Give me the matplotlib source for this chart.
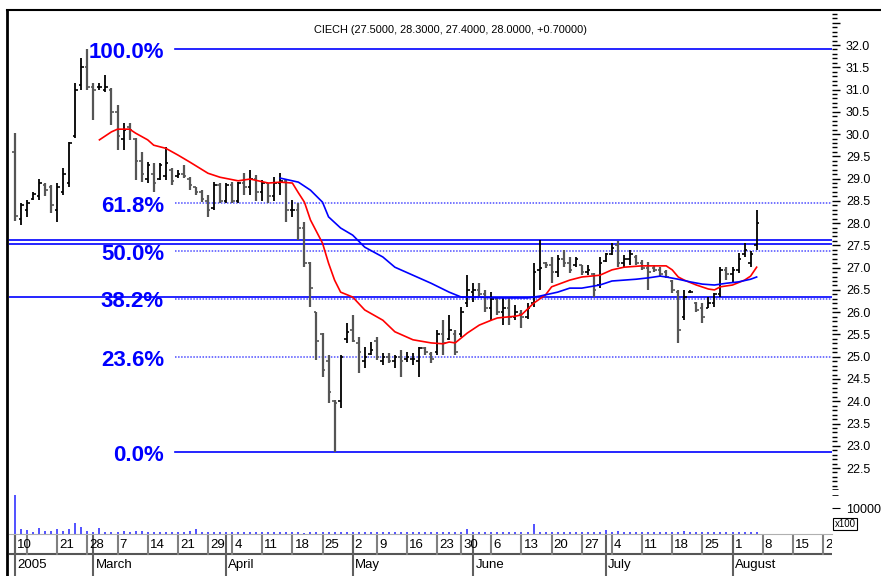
import numpy as np
import pandas as pd
import matplotlib
matplotlib.use("Agg")
import matplotlib.pyplot as plt
from matplotlib.lines import Line2D
from matplotlib.ticker import MultipleLocator, FuncFormatter, FixedLocator
import matplotlib.transforms as mtrans

plt.rcParams['font.family'] = ['Liberation Sans', 'DejaVu Sans']

title = "CIECH (27.5000, 28.3000, 27.4000, 28.0000, +0.70000)"

# ---------------- data ----------------
opens = [29.6, 28.1, 28.3, 28.55, 28.6, 28.85, 28.8, 28.3, 28.7, 28.9,
         29.95, 31.1, 31.5, 31.05, 31.05, 31.0, 31.0, 30.5, 29.9, 30.15,
         29.9, 29.4, 29.0, 29.1, 29.0, 29.05, 29.2, 29.05, 29.1, 29.0,
         28.8, 28.7, 28.5, 28.35, 28.85, 28.5, 28.85, 28.5, 28.9, 28.8,
         29.0, 28.7, 28.9, 28.6, 28.9, 28.95, 28.3, 28.3, 27.9, 27.1,
         26.0, 25.5, 24.9, 24.0, 24.0, 25.4, 25.6, 25.3, 24.9, 25.05,
         25.35, 24.9, 25.0, 24.9, 25.0, 24.95, 24.95, 24.9, 25.2, 25.05,
         25.1, 25.5, 25.4, 25.5, 25.5, 26.2, 26.45, 26.5, 26.4, 26.1,
         26.3, 26.0, 26.1, 25.9, 25.95, 25.9, 26.2, 26.95, 27.1, 27.05,
         26.9, 27.2, 27.1, 27.05, 27.05, 26.9, 26.85, 26.6, 27.15, 27.3,
         27.5, 27.1, 27.2, 27.25, 27.1, 27.0, 27.0, 26.95, 26.9, 26.7,
         26.45, 25.9, 26.45, 26.2, 26.1, 26.1, 26.2, 26.4, 26.95, 26.85,
         26.95, 27.3, 27.1, 27.5]
highs = [30.03, 28.45, 28.52, 28.7, 29.0, 28.9, 28.86, 28.9, 29.24, 29.82,
         31.15, 31.7, 31.9, 31.15, 31.15, 31.33, 31.03, 30.65, 30.25, 30.25,
         29.91, 29.6, 29.37, 29.35, 29.35, 29.7, 29.24, 29.19, 29.3, 29.04,
         28.81, 28.74, 28.63, 28.92, 28.9, 28.9, 28.92, 28.92, 29.12, 29.19,
         29.08, 28.97, 28.9, 29.03, 29.12, 28.97, 28.52, 28.45, 28.03, 27.13,
         26.01, 25.53, 25.04, 24.03, 25.04, 25.76, 25.94, 25.44, 25.22, 25.33,
         25.44, 25.08, 25.08, 25.04, 25.15, 25.1, 25.08, 25.22, 25.22, 25.1,
         25.6, 25.82, 25.94, 25.6, 26.12, 26.83, 26.65, 26.65, 26.5, 26.45,
         26.32, 26.32, 26.32, 26.16, 26.05, 26.2, 27.1, 27.62, 27.13, 27.24,
         27.28, 27.4, 27.24, 27.24, 27.06, 27.06, 26.88, 27.24, 27.33, 27.55,
         27.6, 27.28, 27.4, 27.28, 27.17, 27.13, 27.06, 27.01, 26.95, 26.72,
         26.5, 26.5, 26.5, 26.23, 26.2, 26.34, 26.43, 27.01, 27.01, 27.01,
         27.33, 27.55, 27.38, 28.3]
lows = [28.04, 27.96, 28.14, 28.52, 28.52, 28.6, 28.23, 28.03, 28.63, 28.81,
        29.91, 31.0, 30.99, 30.32, 30.99, 30.95, 30.2, 29.64, 29.64, 29.87,
        28.97, 28.92, 28.9, 28.7, 28.97, 28.97, 28.86, 29.01, 29.01, 28.74,
        28.63, 28.47, 28.14, 28.3, 28.45, 28.45, 28.45, 28.45, 28.63, 28.63,
        28.5, 28.5, 28.45, 28.5, 28.63, 28.03, 28.14, 27.62, 27.01, 26.12,
        24.93, 24.54, 23.96, 22.85, 23.85, 25.31, 25.33, 24.63, 24.75, 25.04,
        24.93, 24.81, 24.86, 24.75, 24.54, 24.88, 24.81, 24.54, 25.04, 24.86,
        25.04, 25.04, 25.38, 25.04, 25.44, 26.12, 26.23, 26.34, 26.0, 25.82,
        25.94, 25.71, 25.71, 25.82, 25.64, 25.85, 26.12, 26.5, 27.0, 26.65,
        26.79, 27.01, 26.88, 27.01, 26.83, 26.83, 26.34, 26.54, 27.13, 27.28,
        27.01, 27.01, 27.06, 27.06, 26.94, 26.5, 26.9, 26.79, 26.77, 26.43,
        25.31, 25.82, 26.43, 26.0, 25.76, 26.09, 26.12, 26.34, 26.72, 26.65,
        26.88, 27.24, 27.01, 27.4]
closes = [28.15, 28.4, 28.45, 28.65, 28.9, 28.75, 28.4, 28.8, 29.1, 29.8,
          31.0, 31.5, 31.05, 31.0, 31.05, 31.05, 30.5, 29.95, 30.1, 30.1,
          29.4, 29.1, 29.3, 28.9, 29.3, 29.35, 28.95, 29.1, 29.05, 28.85,
          28.7, 28.55, 28.3, 28.85, 28.5, 28.85, 28.5, 28.9, 28.8, 29.0,
          28.7, 28.9, 28.6, 28.9, 28.95, 28.3, 28.3, 27.9, 27.1, 26.55,
          25.35, 24.7, 24.2, 23.95, 25.0, 25.55, 25.35, 25.1, 25.0, 25.15,
          25.0, 25.0, 24.9, 25.0, 24.9, 25.0, 24.95, 25.2, 25.1, 24.95,
          25.5, 25.3, 25.6, 25.1, 26.0, 26.5, 26.5, 26.4, 26.1, 26.3,
          26.0, 26.1, 25.9, 26.0, 25.9, 26.1, 26.9, 27.0, 27.05, 26.9,
          27.2, 27.1, 26.95, 27.2, 26.9, 26.95, 26.5, 27.1, 27.3, 27.45,
          27.1, 27.2, 27.3, 27.1, 27.0, 26.9, 26.95, 26.85, 26.8, 26.5,
          25.6, 26.35, 26.45, 26.05, 25.9, 26.2, 26.4, 26.95, 26.85, 26.95,
          27.2, 27.4, 27.3, 28.0]
volumes = [15000, 1800, 1500, 900, 2200, 1300, 1300, 1800, 1300, 1800,
           4300, 2800, 1300, 900, 2200, 900, 650, 900, 1300, 900,
           1300, 1300, 650, 650, 650, 650, 650, 650, 900, 1300,
           1800, 650, 650, 650, 900, 650, 650, 650, 650, 650,
           650, 650, 650, 650, 650, 650, 650, 650, 500, 650,
           650, 650, 650, 650, 650, 650, 650, 650, 650, 650,
           650, 650, 650, 650, 650, 650, 650, 650, 650, 650,
           650, 650, 650, 650, 650, 1800, 650, 650, 650, 650,
           650, 650, 650, 650, 650, 650, 3900, 650, 650, 650,
           650, 650, 650, 650, 650, 650, 650, 650, 1500, 650,
           1300, 650, 650, 650, 650, 650, 650, 650, 650, 650,
           650, 1300, 650, 650, 650, 650, 650, 650, 650, 650,
           650, 650, 650, 650]

# moving averages (bar index, value)
red_ma_bar = [14, 16, 17, 19, 20, 22, 23, 25, 27, 29, 32, 34, 37, 39, 42, 44, 46, 47,
              48, 49, 51, 52, 53, 54, 56, 58, 61, 63, 66, 69, 71, 72, 73, 75, 77, 79,
              80, 83, 84, 86, 88, 89, 92, 94, 97, 99, 101, 104, 108, 109, 110, 111,
              113, 115, 116, 117, 119, 121, 122, 123]
red_ma_val = [29.87, 30.05, 30.11, 30.11, 30.02, 29.87, 29.75, 29.68, 29.53, 29.37,
              29.12, 29.03, 28.95, 28.99, 28.9, 28.92, 28.9, 28.68, 28.47, 28.07,
              27.55, 27.1, 26.72, 26.45, 26.34, 26.05, 25.82, 25.56, 25.38, 25.31,
              25.29, 25.33, 25.31, 25.53, 25.71, 25.82, 25.87, 25.91, 25.94, 26.2,
              26.39, 26.57, 26.72, 26.79, 26.83, 26.95, 27.01, 27.04, 27.04, 26.95,
              26.79, 26.72, 26.61, 26.52, 26.5, 26.57, 26.61, 26.72, 26.81, 27.01]
blue_ma_bar = [44, 47, 49, 51, 52, 54, 56, 58, 61, 63, 66, 69, 72, 74, 77, 80, 83, 85,
               87, 90, 92, 94, 97, 99, 103, 105, 107, 108, 110, 112, 114, 116, 118,
               120, 122, 123]
blue_ma_val = [29.01, 28.92, 28.74, 28.47, 28.14, 27.89, 27.73, 27.46, 27.24, 27.01,
               26.83, 26.65, 26.45, 26.34, 26.34, 26.32, 26.32, 26.32, 26.36, 26.45,
               26.54, 26.54, 26.61, 26.7, 26.74, 26.77, 26.81, 26.79, 26.74, 26.68,
               26.63, 26.61, 26.65, 26.68, 26.74, 26.79]

# Fibonacci retracement between the swing low and high
fib_low, fib_high = 22.85, 31.9
fib_pcts = [0.0, 23.6, 38.2, 50.0, 61.8, 100.0]
fib_labels = ["0.0%", "23.6%", "38.2%", "50.0%", "61.8%", "100.0%"]
hlines_levels = [27.62, 27.53, 26.35]   # full-width support / resistance lines

# calendar (Warsaw exchange trading days)
first_day, last_day = "2005-02-10", "2005-08-31"
holidays = ["2005-03-28", "2005-05-03", "2005-05-26"]
week_ticks = ["2005-02-10", "2005-02-14", "2005-02-21", "2005-02-28", "2005-03-07",
              "2005-03-14", "2005-03-21", "2005-03-29", "2005-04-04", "2005-04-11",
              "2005-04-18", "2005-04-25", "2005-05-02", "2005-05-09", "2005-05-16",
              "2005-05-23", "2005-05-30", "2005-06-06", "2005-06-13", "2005-06-20",
              "2005-06-27", "2005-07-04", "2005-07-11", "2005-07-18", "2005-07-25",
              "2005-08-01", "2005-08-08", "2005-08-15", "2005-08-22"]
week_labels = ["10", "", "21", "28", "7", "14", "21", "29", "4", "11", "18", "25",
               "2", "9", "16", "23", "30", "6", "13", "20", "27", "4", "11", "18",
               "25", "1", "8", "15", "22"]
month_ticks = ["2005-02-10", "2005-03-01", "2005-04-01", "2005-05-02", "2005-06-01",
               "2005-07-01", "2005-08-01"]
month_labels = ["2005", "March", "April", "May", "June", "July", "August"]

# ---------------- figure ----------------
W, H = 881, 576
fig = plt.figure(figsize=(W / 100, H / 100), dpi=100)
fig.patch.set_facecolor("white")


def rect(l, t, r, b):
    return [l / W, 1 - b / H, (r - l) / W, (b - t) / H]


dates = pd.bdate_range(first_day, last_day)
dates = dates[~dates.isin(pd.to_datetime(holidays))]
pos = {d: i for i, d in enumerate(dates)}

n = len(closes)
x = np.arange(n)
o = np.array(opens); h = np.array(highs); l = np.array(lows); c = np.array(closes)

XMIN, XMAX = -1.0, 135.5

# price panel
ax = fig.add_axes(rect(9, 10, 832, 487))
ax.set_xlim(XMIN, XMAX)
ax.set_ylim(22.074, 32.786)
for s in ax.spines.values():
    s.set_visible(False)
ax.set_xticks([])

up = c >= o
cols = np.where(up, "#000000", "#555555")
lws = np.where(up, 1.3, 1.6)
for xi, lo_, hi_, op, cl, col, lw in zip(x, l, h, o, c, cols, lws):
    ax.plot([xi, xi], [lo_, hi_], color=col, lw=lw, solid_capstyle="butt", zorder=3)
    ax.plot([xi - 0.42, xi], [op, op], color=col, lw=1.2, solid_capstyle="butt", zorder=3)
    ax.plot([xi, xi + 0.42], [cl, cl], color=col, lw=1.2, solid_capstyle="butt", zorder=3)

ax.plot(red_ma_bar, red_ma_val, color="#ff0000", lw=1.2, zorder=4)
ax.plot(blue_ma_bar, blue_ma_val, color="#0000ff", lw=1.2, zorder=4)

fib_x0 = (175 - 9) / (832 - 9)
lbl_x = (164 - 9) / (832 - 9)
blend = mtrans.blended_transform_factory(ax.transAxes, ax.transData)
for p, lab in zip(fib_pcts, fib_labels):
    lev = fib_low + p / 100.0 * (fib_high - fib_low)
    if p in (0.0, 100.0):
        ax.axhline(lev, xmin=fib_x0, xmax=1, color="#0000ff", lw=1.2, zorder=2)
    else:
        ax.axhline(lev, xmin=fib_x0, xmax=1, color="#4d4dff", lw=1.1,
                   linestyle=(0, (1, 1)), zorder=2)
    ax.text(lbl_x, lev - 0.07, lab, transform=blend, ha="right", va="center",
            color="#0000ff", fontsize=16, fontweight="bold",
            family=["Liberation Sans", "DejaVu Sans"], zorder=5)

for lev in hlines_levels:
    ax.axhline(lev, color="#0000ff", lw=1.2, zorder=2)

ax.yaxis.tick_right()
ax.yaxis.set_major_locator(MultipleLocator(0.5))
ax.yaxis.set_minor_locator(MultipleLocator(0.1))
ax.yaxis.set_major_formatter(FuncFormatter(lambda v, _: "" if v > 32.2 else f"{v:.1f}"))
ax.tick_params(axis="y", which="major", length=6, width=1, pad=4, labelsize=9,
               direction="out", colors="black")
ax.tick_params(axis="y", which="minor", length=3.5, width=1, direction="out")

fig.text(450 / W, 1 - 30 / H, title, ha="center", va="center", fontsize=7.9)

# volume panel
axv = fig.add_axes(rect(9, 487, 832, 534))
axv.set_xlim(XMIN, XMAX)
axv.set_ylim(0, 18077)
for s in axv.spines.values():
    s.set_visible(False)
axv.set_xticks([])
axv.vlines(x, 0, volumes, color="#3333ff", lw=1.2)
axv.yaxis.tick_right()
axv.yaxis.set_major_locator(FixedLocator([10000]))
axv.yaxis.set_minor_locator(FixedLocator([15000, 17500]))
axv.tick_params(axis="y", which="major", length=6, pad=4, labelsize=9)
axv.tick_params(axis="y", which="minor", length=4)
fig.text(845 / W, 1 - 524 / H, "x100", ha="center", va="center", fontsize=7,
         bbox=dict(boxstyle="square,pad=0.15", fc="white", ec="black", lw=0.8))

# date panel
axd = fig.add_axes(rect(9, 534, 832, 576))
axd.set_xlim(XMIN, XMAX)
axd.set_ylim(0, 1)
axd.set_xticks([]); axd.set_yticks([])
for k, s in axd.spines.items():
    s.set_visible(k == "top")
axd.spines["top"].set_color("#b0b0b0")
axd.axhline((576 - 554) / 42, color="#555555", lw=1.5)
for d, lab in zip(week_ticks, week_labels):
    xi = pos[pd.Timestamp(d)]
    axd.plot([xi, xi], [(576 - 554) / 42, 1], color="#808080", lw=1.5)
    axd.text(xi + 0.35, (576 - 545) / 42, lab, ha="left", va="center",
             fontsize=9.5, clip_on=True)
for d, lab in zip(month_ticks, month_labels):
    xi = pos[pd.Timestamp(d)]
    axd.plot([xi, xi], [0, 1], color="#606060", lw=1.5)
    axd.text(xi + 0.35, (576 - 565) / 42, lab, ha="left", va="center",
             fontsize=9.5, clip_on=True)

# outer frame lines
fig.add_artist(Line2D([7 / W, 7 / W], [0, 1 - 10 / H], color="black", lw=2))
fig.add_artist(Line2D([7 / W, 1], [1 - 10 / H, 1 - 10 / H], color="black", lw=1.5))

fig.savefig("out.png", dpi=100)
